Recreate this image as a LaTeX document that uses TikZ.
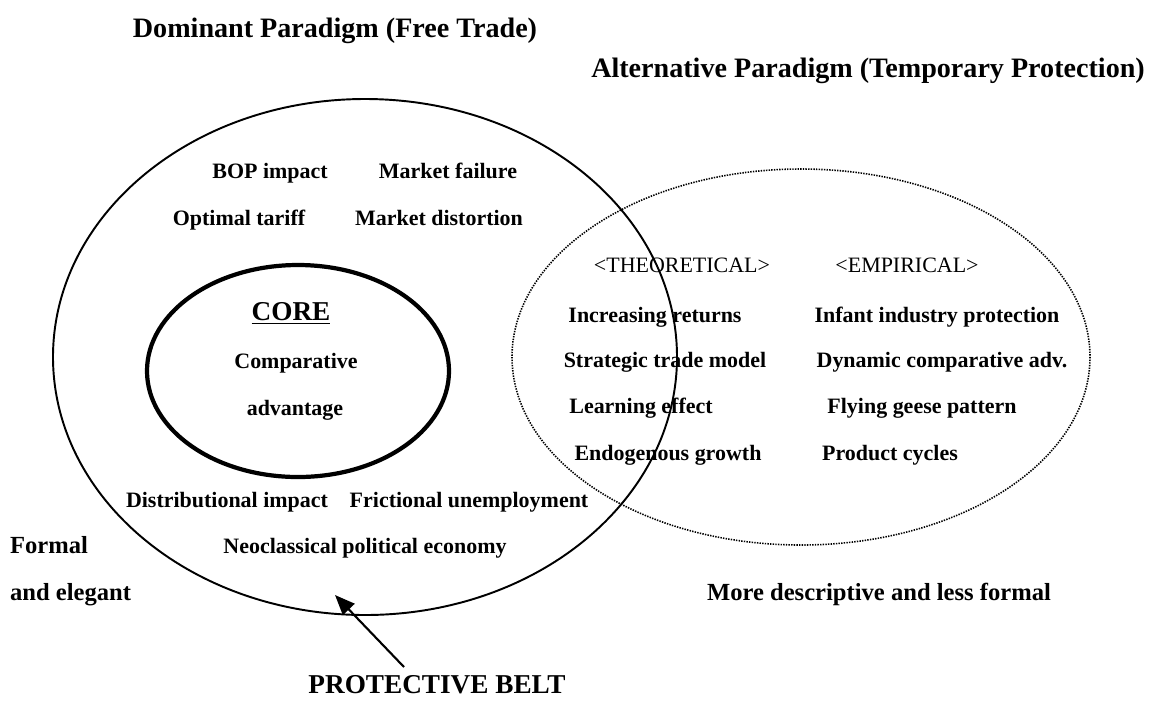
\documentclass[tikz,border=0pt]{standalone}
\usepackage{fontspec}
\setmainfont{Liberation Serif}
\usetikzlibrary{arrows.meta}

\begin{document}
\begin{tikzpicture}[x=0.02cm,y=-0.02cm,
    every node/.style={font=\bfseries\fontsize{12.5}{15}\selectfont, inner sep=1pt,
                       text height=9pt, text depth=2.5pt},
    title/.style={font=\bfseries\fontsize{16}{19}\selectfont},
    sidenote/.style={font=\bfseries\fontsize{14}{17}\selectfont},
    colhead/.style={font=\fontsize{12.5}{15}\selectfont},
    bigcap/.style={font=\bfseries\fontsize{15.5}{18}\selectfont}]

         \useasboundingbox (0,0) rectangle (1155,701);

         \draw [line width=1.1pt] (365,357) ellipse (312 and 258);
         \draw [line width=2.4pt] (298,371) ellipse (151 and 106);
         \draw [dash pattern=on 0.8pt off 0.7pt, line width=0.9pt] (801,357) ellipse (289 and 188);

         \node [title] (A)  at (335,32)    {Dominant Paradigm (Free Trade)};
         \node [title] (B)  at (868,72)    {Alternative Paradigm (Temporary Protection)};

         \node (C)  at (270,173)    {BOP impact};
         \node (D)  at (448,173)    {Market failure};
         \node (E)  at (239,220)    {Optimal tariff};
         \node (F)  at (439,220)    {Market distortion};

         \node [bigcap] (G)  at (291,315)    {\underline{CORE}};
         \node (H)  at (296,363)    {Comparative};
         \node (I)  at (295,410)    {advantage};

         \node (J)  at (227,502)    {Distributional impact};
         \node (K)  at (469,502)    {Frictional unemployment};
         \node (L)  at (365,548)    {Neoclassical political economy};

         \node [sidenote, anchor=west] (M)  at (8,548)    {Formal};
         \node [sidenote, anchor=west] (N)  at (8,595)    {and elegant};
         \node [sidenote] (O)  at (879,595)    {More descriptive and less formal};

         \node [colhead] (P)  at (682,267)    {<THEORETICAL>};
         \node [colhead] (Q)  at (907,267)    {<EMPIRICAL>};
         \node (R)  at (655,317)    {Increasing returns};
         \node (S)  at (665,362)    {Strategic trade model};
         \node (T)  at (641,408)    {Learning effect};
         \node (U)  at (668,455)    {Endogenous growth};
         \node (V)  at (937,317)    {Infant industry protection};
         \node (W)  at (942,362)    {Dynamic comparative adv.};
         \node (X)  at (922,408)    {Flying geese pattern};
         \node (Y)  at (890,455)    {Product cycles};

         \node [bigcap] (Z)  at (437,688)    {PROTECTIVE BELT};
         \coordinate (Zt) at (404,667);
         \coordinate (Zh) at (335,595);

  		 \draw [-{Triangle[length=4mm,width=3.2mm]}, line width=1.2pt] (Zt) -- (Zh) ;

        \end{tikzpicture}
\end{document}
